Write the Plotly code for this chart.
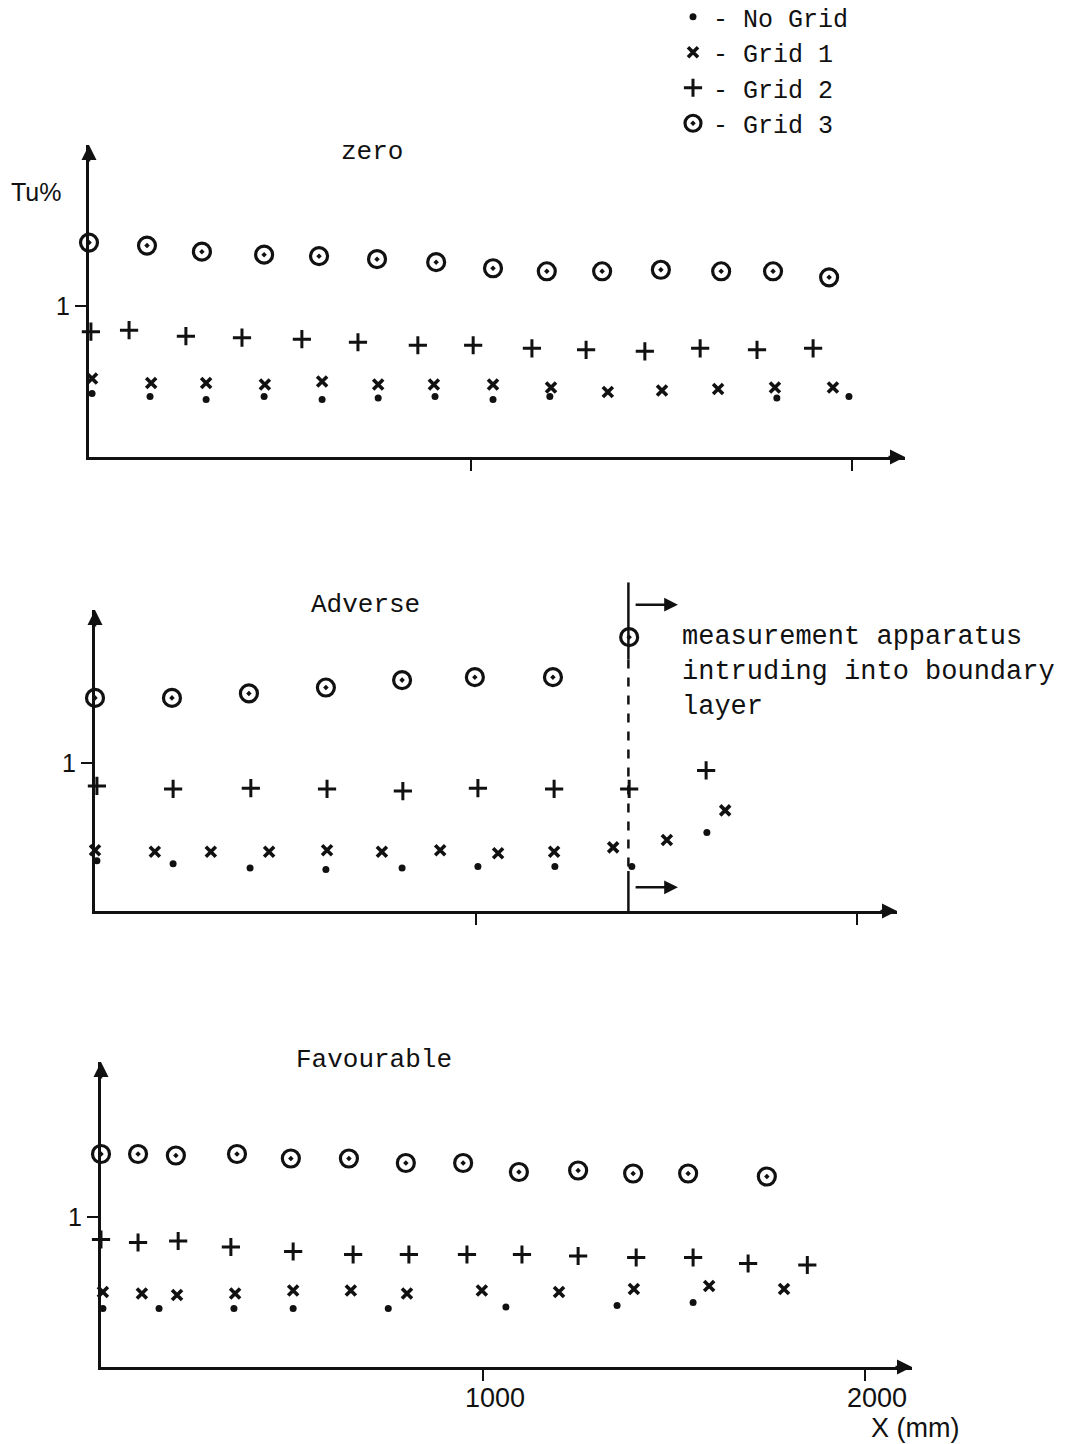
import plotly.graph_objects as go

# ---------------- data (X in mm, Tu in %) ----------------
series_names = ["No Grid", "Grid 1", "Grid 2", "Grid 3"]
panel_titles = ["zero", "Adverse", "Favourable"]

zero_ng_x = [8, 160, 307, 459, 611, 758, 907, 1059, 1208, 1803, 1992]
zero_ng_y = [0.42, 0.40, 0.38, 0.40, 0.38, 0.39, 0.40, 0.38, 0.40, 0.39, 0.40]
zero_g1_x = [8, 163, 307, 461, 611, 758, 904, 1059, 1211, 1360, 1502, 1649, 1798, 1950]
zero_g1_y = [0.52, 0.49, 0.49, 0.48, 0.50, 0.48, 0.48, 0.48, 0.46, 0.43, 0.44, 0.45, 0.46, 0.46]
zero_g2_x = [5, 105, 254, 401, 558, 705, 862, 1007, 1161, 1303, 1457, 1602, 1751, 1898]
zero_g2_y = [0.83, 0.84, 0.80, 0.79, 0.78, 0.76, 0.74, 0.74, 0.72, 0.71, 0.70, 0.72, 0.71, 0.72]
zero_g3_x = [0, 152, 296, 459, 603, 755, 910, 1059, 1200, 1345, 1499, 1657, 1793, 1940]
zero_g3_y = [1.42, 1.40, 1.36, 1.34, 1.33, 1.31, 1.29, 1.25, 1.23, 1.23, 1.24, 1.23, 1.23, 1.19]

adv_ng_x = [5, 205, 407, 606, 806, 1005, 1207, 1409, 1606]
adv_ng_y = [0.34, 0.32, 0.29, 0.28, 0.29, 0.30, 0.30, 0.30, 0.53]
adv_g1_x = [0, 157, 304, 457, 609, 753, 906, 1058, 1205, 1360, 1501, 1654]
adv_g1_y = [0.41, 0.40, 0.40, 0.40, 0.41, 0.40, 0.41, 0.39, 0.40, 0.43, 0.48, 0.68]
adv_g2_x = [5, 205, 409, 609, 808, 1005, 1205, 1402, 1604]
adv_g2_y = [0.845, 0.825, 0.83, 0.825, 0.81, 0.83, 0.825, 0.825, 0.95]
adv_g3_x = [0, 202, 404, 606, 806, 997, 1202, 1402]
adv_g3_y = [1.44, 1.44, 1.47, 1.51, 1.56, 1.58, 1.58, 1.85]

fav_ng_x = [5, 152, 348, 503, 752, 1060, 1351, 1550]
fav_ng_y = [0.39, 0.39, 0.39, 0.39, 0.39, 0.40, 0.41, 0.43]
fav_g1_x = [5, 107, 199, 351, 503, 654, 801, 997, 1199, 1395, 1592, 1788]
fav_g1_y = [0.50, 0.49, 0.48, 0.49, 0.51, 0.51, 0.49, 0.51, 0.50, 0.52, 0.54, 0.52]
fav_g2_x = [0, 97, 202, 340, 503, 660, 806, 958, 1102, 1249, 1401, 1550, 1694, 1849]
fav_g2_y = [0.85, 0.83, 0.84, 0.80, 0.77, 0.75, 0.75, 0.75, 0.75, 0.74, 0.73, 0.73, 0.69, 0.68]
fav_g3_x = [0, 97, 196, 356, 497, 649, 798, 948, 1094, 1249, 1393, 1537, 1743]
fav_g3_y = [1.42, 1.42, 1.41, 1.42, 1.39, 1.39, 1.36, 1.36, 1.30, 1.31, 1.29, 1.29, 1.27]

x_ticks = [1000, 2000]
x_tick_labels = ["1000", "2000"]
y_ticks = [1]
y_tick_labels = ["1"]

apparatus_x = 1400          # position of the probe-intrusion marker (mm)
note_text = "measurement apparatus<br>intruding into boundary<br>layer"

panels = [
    [(zero_ng_x, zero_ng_y), (zero_g1_x, zero_g1_y), (zero_g2_x, zero_g2_y), (zero_g3_x, zero_g3_y)],
    [(adv_ng_x, adv_ng_y), (adv_g1_x, adv_g1_y), (adv_g2_x, adv_g2_y), (adv_g3_x, adv_g3_y)],
    [(fav_ng_x, fav_ng_y), (fav_g1_x, fav_g1_y), (fav_g2_x, fav_g2_y), (fav_g3_x, fav_g3_y)],
]

# ---------------- styles ----------------
W, H = 1067, 1444
MONO = "Liberation Mono, Courier New, monospace"
SANS = "Liberation Sans Narrow, Liberation Sans, Arial, sans-serif"
INK = "#111111"

marker_styles = [
    dict(symbol="circle", size=7, color=INK),
    dict(symbol="x-thin-open", size=10, color=INK, line=dict(width=3.6, color=INK)),
    dict(symbol="cross-thin-open", size=13, color=INK, line=dict(width=3, color=INK)),
    dict(symbol="circle-open-dot", size=17, color=INK, line=dict(width=3.2, color=INK)),
]

# pixel geometry of each panel: (x origin, x end, y origin, y top, px per mm, px per Tu)
geom = [
    (89, 905, 457, 145, 0.3815, 151),
    (95, 897, 911, 610, 0.381, 148),
    (101, 912, 1367, 1062, 0.382, 150),
]

fig = go.Figure()
layout = dict(
    width=W, height=H, autosize=False,
    margin=dict(l=0, r=0, t=0, b=0, autoexpand=False),
    paper_bgcolor="white", plot_bgcolor="white",
    showlegend=True,
    legend=dict(
        x=673 / W, y=1 + 6 / H, xanchor="left", yanchor="top",
        font=dict(family=MONO, size=25, color=INK),
        bgcolor="rgba(0,0,0,0)", tracegroupgap=0, itemsizing="trace",
        traceorder="normal",
    ),
)

annotations = []
shapes = []
ydoms = []
for p, (x0, x1, y0, y1, sx, sy) in enumerate(geom):
    sfx = "" if p == 0 else str(p + 1)
    xmax = (x1 - x0) / sx
    ymax = (y0 - y1) / sy
    ydom = [1 - y0 / H, 1 - y1 / H]
    ydoms.append((ydom, ymax))
    layout["xaxis" + sfx] = dict(
        domain=[x0 / W, x1 / W], range=[0, xmax], anchor="y" + sfx,
        showgrid=False, zeroline=False, showline=True, linewidth=3, linecolor=INK,
        tickmode="array", tickvals=x_ticks, ticktext=x_tick_labels,
        ticks="outside", ticklen=11, tickwidth=2, tickcolor=INK,
        showticklabels=(p == 2), ticklabelshift=12, ticklabelstandoff=-6,
        tickfont=dict(family=SANS, size=27, color=INK),
        fixedrange=True,
    )
    layout["yaxis" + sfx] = dict(
        domain=ydom, range=[0, ymax], anchor="x" + sfx,
        showgrid=False, zeroline=False, showline=True, linewidth=3, linecolor=INK,
        tickmode="array", tickvals=y_ticks, ticktext=y_tick_labels,
        ticks="outside", ticklen=11, tickwidth=2, tickcolor=INK,
        tickfont=dict(family=SANS, size=25, color=INK),
        fixedrange=True,
    )
    # arrow heads on the axes
    annotations.append(dict(x=xmax, y=0, xref="x" + sfx, yref="y" + sfx, text="",
                            showarrow=True, ax=-18, ay=0, arrowhead=2, arrowsize=1.2,
                            arrowwidth=2.5, arrowcolor=INK))
    annotations.append(dict(x=0, y=ymax, xref="x" + sfx, yref="y" + sfx, text="",
                            showarrow=True, ax=0, ay=18, arrowhead=2, arrowsize=1.2,
                            arrowwidth=2.5, arrowcolor=INK))
    for s, (xs, ys) in enumerate(panels[p]):
        fig.add_trace(go.Scatter(
            x=xs, y=ys, mode="markers", name="- " + series_names[s],
            marker=marker_styles[s], legendgroup=series_names[s],
            showlegend=(p == 0), cliponaxis=False,
            xaxis="x" + sfx, yaxis="y" + sfx,
        ))


def adv_paper_y(v):
    """Tu value in the Adverse panel -> paper fraction (may lie above the axis top)."""
    (d0, d1), ymax = ydoms[1]
    return d0 + v / ymax * (d1 - d0)


# panel titles
title_pos = [(372, 152), (365, 605), (374, 1060)]
for t, (px, py) in zip(panel_titles, title_pos):
    annotations.append(dict(x=px / W, y=1 - py / H, xref="paper", yref="paper", text=t,
                            showarrow=False, font=dict(family=MONO, size=26, color=INK),
                            xanchor="center", yanchor="middle"))

annotations.append(dict(x=36 / W, y=1 - 192 / H, xref="paper", yref="paper", text="Tu%",
                        showarrow=False, xanchor="center", yanchor="middle",
                        font=dict(family=SANS, size=25, color=INK)))
annotations.append(dict(x=915 / W, y=1 - 1428 / H, xref="paper", yref="paper", text="X (mm)",
                        showarrow=False, xanchor="center", yanchor="middle",
                        font=dict(family=SANS, size=27, color=INK)))

# probe-intrusion marker in the Adverse panel
for (va, vb, dash) in [(2.22, 1.70, "solid"), (1.70, 0.27, "dash"), (0.27, 0.0, "solid")]:
    shapes.append(dict(type="line", xref="x2", yref="paper", x0=apparatus_x, x1=apparatus_x,
                       y0=adv_paper_y(va), y1=adv_paper_y(vb),
                       line=dict(color=INK, width=2.5, dash=dash)))
for ay_val in (2.07, 0.16):
    annotations.append(dict(x=1530, y=adv_paper_y(ay_val), xref="x2", yref="paper", text="",
                            showarrow=True, ax=1415, ay=0,
                            axref="x2", ayref="pixel",
                            arrowhead=2, arrowsize=1.1, arrowwidth=2.5, arrowcolor=INK))
annotations.append(dict(x=1535, y=1.615, xref="x2", yref="y2", text=note_text,
                        showarrow=False, align="left", xanchor="left", yanchor="middle",
                        font=dict(family=MONO, size=27, color=INK)))

layout["annotations"] = annotations
layout["shapes"] = shapes
fig.update_layout(**layout)
fig.write_html("out.html")
